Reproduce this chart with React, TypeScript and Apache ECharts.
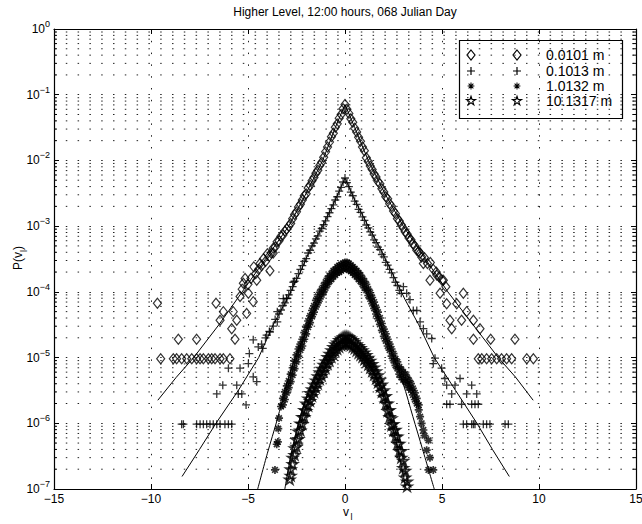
import React, { useEffect, useRef } from 'react';
import * as echarts from 'echarts';

// ---------- texts ----------
const chartTitle = 'Higher Level, 12:00 hours, 068 Julian Day';
const legendLabels = ['0.0101 m', '0.1013 m', '1.0132 m', '10.1317 m'];

// ---------- axes ----------
const xMin = -15;
const xMax = 15;
const xStep = 5;
const yMin = 1e-7;
const yMax = 1;
const decadeExponents = [-7, -6, -5, -4, -3, -2, -1];
const minorMantissas = [2, 3, 4, 5, 6, 7, 8, 9];

// ---------- data: [v_l, P(v_l)] ----------
const diamondPoints: number[][] = [
  [0, 7.1e-2], [-0.1, 6.1e-2], [-0.2, 5.0e-2], [-0.3, 4.4e-2], [-0.4, 3.6e-2], [-0.5, 3.2e-2], [-0.6, 2.6e-2],
  [-0.7, 2.3e-2], [-0.8, 1.9e-2], [-0.9, 1.6e-2], [-1.0, 1.35e-2], [-1.1, 1.12e-2], [-1.2, 9.4e-3], [-1.3, 8.4e-3],
  [-1.4, 7.1e-3], [-1.5, 6.4e-3], [-1.6, 5.5e-3], [-1.7, 4.9e-3], [-1.8, 4.2e-3], [-1.9, 3.8e-3], [-2.0, 3.1e-3],
  [-2.1, 2.9e-3], [-2.2, 2.5e-3], [-2.3, 2.15e-3], [-2.4, 1.95e-3], [-2.5, 1.65e-3], [-2.6, 1.5e-3], [-2.7, 1.3e-3],
  [-2.8, 1.1e-3], [-2.9, 1.0e-3], [-3.0, 9.0e-4], [-3.1, 8.4e-4], [-3.2, 7.3e-4], [-3.3, 7.0e-4], [-3.4, 6.0e-4],
  [-3.5, 5.8e-4], [-3.6, 4.8e-4], [-3.7, 4.6e-4], [-3.8, 3.9e-4], [-3.9, 3.5e-4], [-4.0, 3.8e-4], [-4.1, 2.9e-4],
  [-4.2, 3.2e-4], [-4.3, 2.5e-4], [-4.45, 2.2e-4], [-4.6, 1.9e-4], [-4.7, 2.4e-4], [-4.85, 1.6e-4], [-5.0, 1.3e-4],
  [-5.15, 1.6e-4], [-5.3, 1.1e-4],
  [-9.67, 6.7e-5], [-6.65, 6.7e-5], [-8.59, 1.9e-5], [-7.65, 1.9e-5],
  [-9.5, 9.6e-6], [-8.85, 9.6e-6], [-8.68, 9.6e-6], [-8.42, 9.6e-6], [-8.16, 9.6e-6], [-7.9, 9.6e-6], [-7.65, 9.6e-6],
  [-7.47, 9.6e-6], [-7.3, 9.6e-6], [-7.04, 9.6e-6], [-6.87, 9.6e-6], [-6.7, 9.6e-6], [-6.44, 9.6e-6], [-6.27, 9.6e-6],
  [-5.93, 9.6e-6],
  [-5.67, 1.9e-5], [-6.44, 3.7e-5], [-5.84, 2.75e-5], [-5.58, 3.7e-5], [-6.27, 5.0e-5], [-5.76, 5.0e-5], [-5.07, 4.7e-5],
  [-5.41, 8.5e-5], [-4.98, 9.5e-5], [-4.73, 7.1e-5], [-5.24, 1.35e-4], [-4.55, 1.5e-4], [-4.38, 2.7e-4], [-3.87, 2.1e-4],
  [-3.7, 3.9e-4],
  [0.1, 6.0e-2], [0.2, 5.2e-2], [0.3, 4.3e-2], [0.4, 3.8e-2], [0.5, 3.1e-2], [0.6, 2.7e-2], [0.7, 2.25e-2],
  [0.8, 1.95e-2], [0.9, 1.6e-2], [1.0, 1.4e-2], [1.1, 1.1e-2], [1.2, 9.6e-3], [1.3, 8.2e-3], [1.4, 7.3e-3],
  [1.5, 6.2e-3], [1.6, 5.6e-3], [1.7, 4.8e-3], [1.8, 4.4e-3], [1.9, 3.7e-3], [2.0, 3.3e-3], [2.1, 2.8e-3],
  [2.2, 2.6e-3], [2.3, 2.2e-3], [2.4, 2.0e-3], [2.5, 1.7e-3], [2.6, 1.55e-3], [2.7, 1.3e-3], [2.8, 1.2e-3],
  [2.9, 1.05e-3], [3.0, 9.4e-4], [3.1, 8.2e-4], [3.2, 7.6e-4], [3.3, 6.6e-4], [3.4, 6.2e-4], [3.5, 5.4e-4],
  [3.6, 5.0e-4], [3.7, 4.3e-4], [3.8, 4.1e-4], [3.95, 3.4e-4], [4.1, 3.3e-4], [4.25, 2.7e-4], [4.4, 2.8e-4],
  [4.55, 2.2e-4], [4.7, 2.0e-4], [4.85, 1.7e-4], [5.0, 1.5e-4], [5.2, 1.2e-4],
  [6.87, 9.6e-6], [7.05, 9.6e-6], [7.3, 9.6e-6], [7.56, 9.6e-6], [7.82, 9.6e-6], [8.07, 9.6e-6], [8.33, 9.6e-6],
  [8.59, 9.6e-6], [9.37, 9.6e-6], [9.71, 9.6e-6],
  [6.62, 1.9e-5], [7.51, 1.9e-5], [8.76, 1.9e-5], [5.5, 2.75e-5], [6.96, 2.75e-5], [5.41, 3.7e-5], [6.01, 3.7e-5],
  [6.62, 3.7e-5], [4.9, 9.5e-5], [6.1, 9.5e-5], [5.76, 6.6e-5], [6.27, 5.0e-5], [5.24, 6.6e-5], [4.38, 1.5e-4],
  [4.73, 1.8e-4], [5.07, 1.5e-4], [4.04, 2.7e-4], [3.87, 3.9e-4],
];

const plusPoints: number[][] = [
  [0, 5.4e-3], [-0.1, 4.7e-3], [-0.2, 3.9e-3], [-0.3, 3.4e-3], [-0.4, 2.8e-3], [-0.5, 2.5e-3], [-0.6, 2.1e-3],
  [-0.7, 1.85e-3], [-0.8, 1.6e-3], [-0.9, 1.4e-3], [-1.0, 1.2e-3], [-1.1, 1.05e-3], [-1.2, 9.2e-4], [-1.3, 8.4e-4],
  [-1.4, 7.1e-4], [-1.5, 6.4e-4], [-1.6, 5.5e-4], [-1.7, 5.0e-4], [-1.8, 4.3e-4], [-1.9, 3.9e-4], [-2.0, 3.2e-4],
  [-2.1, 2.9e-4], [-2.2, 2.5e-4], [-2.3, 2.2e-4], [-2.4, 1.9e-4], [-2.5, 1.6e-4], [-2.6, 1.45e-4], [-2.7, 1.2e-4],
  [-2.8, 1.05e-4], [-2.9, 9.0e-5], [-3.0, 8.0e-5], [-3.1, 6.8e-5], [-3.2, 6.2e-5], [-3.3, 5.3e-5], [-3.4, 4.6e-5],
  [-3.6, 3.8e-5], [-3.7, 3.0e-5], [-3.9, 2.5e-5], [-4.1, 2.0e-5], [-4.3, 1.6e-5],
  [-8.42, 9.7e-7], [-8.33, 9.7e-7], [-7.65, 9.7e-7], [-7.47, 9.7e-7], [-7.3, 9.7e-7], [-7.13, 9.7e-7], [-6.96, 9.7e-7],
  [-6.79, 9.7e-7], [-6.61, 9.7e-7], [-6.44, 9.7e-7], [-6.19, 9.7e-7], [-6.01, 9.7e-7], [-5.84, 9.7e-7],
  [-5.1, 1.9e-6], [-6.61, 2.8e-6], [-6.3, 3.8e-6], [-5.58, 3.8e-6], [-6.01, 6.9e-6], [-5.41, 6.9e-6], [-5.5, 2.8e-6],
  [-5.32, 2.8e-6], [-4.98, 8.1e-6], [-4.93, 1.15e-5], [-4.73, 5.1e-6], [-4.55, 4.3e-6], [-4.73, 1.86e-5],
  [-4.47, 1.45e-5], [-4.24, 1.38e-5], [-4.04, 2.2e-5], [-3.87, 2.45e-5], [-3.49, 3.5e-5], [-3.49, 5.0e-5],
  [-3.18, 7.9e-5], [-3.01, 7.9e-5], [-2.66, 1.4e-4],
  [0.1, 4.6e-3], [0.2, 4.0e-3], [0.3, 3.3e-3], [0.4, 2.9e-3], [0.5, 2.4e-3], [0.6, 2.15e-3], [0.7, 1.8e-3],
  [0.8, 1.62e-3], [0.9, 1.38e-3], [1.0, 1.22e-3], [1.1, 1.04e-3], [1.2, 9.4e-4], [1.3, 8.2e-4], [1.4, 7.3e-4],
  [1.5, 6.2e-4], [1.6, 5.6e-4], [1.7, 4.8e-4], [1.8, 4.4e-4], [1.9, 3.7e-4], [2.0, 3.4e-4], [2.1, 2.8e-4],
  [2.2, 2.55e-4], [2.3, 2.2e-4], [2.4, 1.95e-4], [2.5, 1.65e-4], [2.6, 1.4e-4], [2.7, 1.25e-4], [2.8, 1.05e-4],
  [2.9, 9.5e-5], [3.35, 7.6e-5], [3.18, 9.5e-5], [3.01, 1.2e-4], [3.52, 5.2e-5], [3.7, 5.2e-5], [3.87, 3.5e-5],
  [4.04, 2.75e-5], [4.21, 2.3e-5], [4.47, 1.95e-5], [4.55, 8.1e-6], [4.64, 9.8e-6], [4.98, 6.9e-6],
  [5.15, 4.8e-6], [5.93, 4.8e-6], [5.24, 3.8e-6], [5.67, 3.8e-6], [6.53, 3.8e-6], [5.5, 2.8e-6], [6.27, 2.8e-6],
  [6.79, 2.8e-6], [5.24, 1.95e-6], [5.41, 1.95e-6], [6.01, 1.95e-6], [6.53, 1.95e-6], [6.7, 1.95e-6], [6.87, 1.95e-6],
  [6.1, 9.7e-7], [6.27, 9.7e-7], [6.53, 9.7e-7], [6.62, 9.7e-7], [6.7, 9.7e-7], [7.13, 9.7e-7], [7.3, 9.7e-7],
  [7.47, 9.7e-7], [8.25, 9.7e-7], [8.42, 9.7e-7],
];

const asteriskPoints: number[][] = [
  [0, 2.8e-4], [0, 2.3e-4], [-0.1, 2.7e-4], [-0.1, 2.2e-4], [-0.2, 2.6e-4], [-0.2, 2.1e-4], [-0.3, 2.5e-4], [-0.3, 2.0e-4],
  [-0.4, 2.4e-4], [-0.4, 1.95e-4], [-0.5, 2.2e-4], [-0.5, 1.8e-4], [-0.6, 2.1e-4], [-0.6, 1.7e-4], [-0.7, 1.9e-4],
  [-0.7, 1.55e-4], [-0.8, 1.75e-4], [-0.8, 1.45e-4], [-0.9, 1.6e-4], [-0.9, 1.3e-4], [-1.0, 1.4e-4], [-1.0, 1.15e-4],
  [-1.1, 1.25e-4], [-1.1, 1.0e-4], [-1.2, 1.1e-4], [-1.2, 9.0e-5], [-1.3, 9.8e-5], [-1.3, 7.8e-5], [-1.4, 8.5e-5],
  [-1.4, 6.8e-5], [-1.5, 7.4e-5], [-1.5, 5.9e-5], [-1.6, 6.1e-5], [-1.6, 4.9e-5], [-1.7, 5.2e-5], [-1.7, 4.2e-5],
  [-1.8, 4.3e-5], [-1.8, 3.4e-5], [-1.9, 3.6e-5], [-1.9, 2.9e-5], [-2.0, 2.9e-5], [-2.0, 2.3e-5], [-2.1, 2.4e-5],
  [-2.1, 1.9e-5], [-2.2, 1.9e-5], [-2.2, 1.5e-5], [-2.3, 1.6e-5], [-2.3, 1.3e-5], [-2.4, 1.35e-5], [-2.4, 1.05e-5],
  [-2.5, 1.1e-5], [-2.5, 8.6e-6], [-2.6, 8.8e-6], [-2.6, 6.8e-6], [-2.7, 7.0e-6], [-2.7, 5.4e-6], [-2.8, 5.6e-6],
  [-2.8, 4.3e-6], [-2.9, 4.4e-6], [-2.9, 3.5e-6], [-3.0, 3.7e-6], [-3.0, 2.9e-6], [-3.1, 3.0e-6], [-3.1, 2.3e-6],
  [-3.2, 2.4e-6], [-3.2, 1.9e-6], [-3.3, 1.8e-6],
  [-3.4, 1.2e-6], [-3.44, 8.3e-7], [-3.46, 5.2e-7], [-3.52, 4.8e-7], [-3.61, 1.95e-7],
  [0.1, 2.8e-4], [0.1, 2.25e-4], [0.2, 2.7e-4], [0.2, 2.15e-4], [0.3, 2.55e-4], [0.3, 2.05e-4], [0.4, 2.4e-4],
  [0.4, 1.95e-4], [0.5, 2.25e-4], [0.5, 1.8e-4], [0.6, 2.1e-4], [0.6, 1.7e-4], [0.7, 1.95e-4], [0.7, 1.55e-4],
  [0.8, 1.8e-4], [0.8, 1.45e-4], [0.9, 1.6e-4], [0.9, 1.3e-4], [1.0, 1.45e-4], [1.0, 1.15e-4], [1.1, 1.3e-4],
  [1.1, 1.05e-4], [1.2, 1.1e-4], [1.2, 8.8e-5], [1.3, 9.7e-5], [1.3, 7.8e-5], [1.4, 8.2e-5], [1.4, 6.6e-5],
  [1.5, 7.0e-5], [1.5, 5.6e-5], [1.6, 5.8e-5], [1.6, 4.6e-5], [1.7, 4.9e-5], [1.7, 3.9e-5], [1.8, 4.0e-5],
  [1.8, 3.2e-5], [1.9, 3.3e-5], [1.9, 2.6e-5], [2.0, 2.7e-5], [2.0, 2.1e-5], [2.1, 2.3e-5], [2.1, 1.8e-5],
  [2.2, 1.9e-5], [2.2, 1.5e-5], [2.3, 1.6e-5], [2.3, 1.3e-5], [2.4, 1.35e-5], [2.4, 1.05e-5], [2.5, 1.15e-5],
  [2.5, 9.0e-6], [2.6, 9.6e-6], [2.6, 7.6e-6], [2.7, 8.6e-6], [2.7, 6.8e-6], [2.8, 7.2e-6], [2.8, 5.6e-6],
  [2.9, 6.6e-6], [2.9, 5.0e-6], [3.0, 6.0e-6], [3.0, 4.6e-6], [3.1, 5.6e-6], [3.1, 4.3e-6], [3.2, 5.0e-6],
  [3.2, 3.9e-6], [3.3, 4.5e-6], [3.3, 3.5e-6], [3.4, 4.0e-6], [3.4, 3.2e-6], [3.5, 3.4e-6], [3.5, 2.7e-6],
  [3.6, 2.9e-6], [3.6, 2.3e-6], [3.7, 2.4e-6], [3.7, 2.0e-6], [3.8, 1.9e-6], [3.8, 1.6e-6],
  [3.87, 1.26e-6], [3.95, 1.0e-6], [4.04, 7.9e-7], [4.1, 6.5e-7], [4.3, 5.5e-7], [4.21, 3.9e-7], [4.38, 3.0e-7],
  [4.3, 1.95e-7], [4.55, 1.95e-7],
];

const starPoints: number[][] = [
  [0, 2.1e-5], [0, 1.65e-5], [-0.1, 2.05e-5], [-0.1, 1.6e-5], [-0.2, 1.95e-5], [-0.2, 1.55e-5], [-0.3, 1.85e-5],
  [-0.3, 1.45e-5], [-0.4, 1.7e-5], [-0.4, 1.35e-5], [-0.5, 1.6e-5], [-0.5, 1.25e-5], [-0.6, 1.45e-5], [-0.6, 1.12e-5],
  [-0.7, 1.3e-5], [-0.7, 1.02e-5], [-0.8, 1.15e-5], [-0.8, 9.0e-6], [-0.9, 1.02e-5], [-0.9, 8.0e-6], [-1.0, 8.8e-6],
  [-1.0, 6.9e-6], [-1.1, 7.8e-6], [-1.1, 6.1e-6], [-1.2, 6.8e-6], [-1.2, 5.3e-6], [-1.3, 6.0e-6], [-1.3, 4.7e-6],
  [-1.4, 5.2e-6], [-1.4, 4.0e-6], [-1.5, 4.5e-6], [-1.5, 3.5e-6], [-1.6, 3.9e-6], [-1.6, 3.0e-6], [-1.7, 3.3e-6],
  [-1.7, 2.6e-6], [-1.8, 2.9e-6], [-1.8, 2.2e-6], [-1.9, 2.4e-6], [-1.9, 1.85e-6], [-2.0, 2.0e-6], [-2.0, 1.55e-6],
  [-2.1, 1.6e-6], [-2.1, 1.25e-6], [-2.2, 1.25e-6], [-2.2, 9.8e-7], [-2.3, 1.0e-6], [-2.3, 7.8e-7], [-2.4, 7.5e-7],
  [-2.4, 5.8e-7], [-2.5, 5.6e-7], [-2.5, 4.4e-7], [-2.6, 4.2e-7], [-2.6, 3.3e-7], [-2.7, 3.0e-7], [-2.7, 2.4e-7],
  [-2.8, 2.0e-7], [-2.8, 1.6e-7], [-2.85, 1.4e-7],
  [0.1, 2.1e-5], [0.1, 1.65e-5], [0.2, 2.05e-5], [0.2, 1.6e-5], [0.3, 1.95e-5], [0.3, 1.55e-5], [0.4, 1.85e-5],
  [0.4, 1.45e-5], [0.5, 1.75e-5], [0.5, 1.38e-5], [0.6, 1.6e-5], [0.6, 1.28e-5], [0.7, 1.5e-5], [0.7, 1.18e-5],
  [0.8, 1.4e-5], [0.8, 1.1e-5], [0.9, 1.3e-5], [0.9, 1.02e-5], [1.0, 1.2e-5], [1.0, 9.4e-6], [1.1, 1.1e-5],
  [1.1, 8.6e-6], [1.2, 1.0e-5], [1.2, 7.8e-6], [1.3, 9.0e-6], [1.3, 7.0e-6], [1.4, 8.0e-6], [1.4, 6.2e-6],
  [1.5, 7.1e-6], [1.5, 5.5e-6], [1.6, 6.2e-6], [1.6, 4.8e-6], [1.7, 5.4e-6], [1.7, 4.2e-6], [1.8, 4.6e-6],
  [1.8, 3.6e-6], [1.9, 3.9e-6], [1.9, 3.0e-6], [2.0, 3.2e-6], [2.0, 2.5e-6], [2.1, 2.6e-6], [2.1, 2.0e-6],
  [2.2, 2.0e-6], [2.2, 1.55e-6], [2.3, 1.6e-6], [2.3, 1.25e-6], [2.4, 1.2e-6], [2.4, 9.4e-7], [2.5, 9.8e-7],
  [2.5, 7.8e-7], [2.6, 8.0e-7], [2.6, 6.3e-7], [2.7, 6.3e-7], [2.7, 4.9e-7], [2.8, 4.9e-7], [2.8, 3.8e-7],
  [2.9, 3.8e-7], [2.9, 3.0e-7], [3.0, 2.7e-7], [3.0, 2.1e-7], [3.1, 1.9e-7], [3.1, 1.5e-7], [3.2, 1.3e-7],
  [3.2, 1.1e-7],
];

// fitted curves
const diamondFit: number[][] = [
  [-9.65, 2.24e-6], [-8.7, 5.0e-6], [-7.8, 1.0e-5], [-6.5, 3.16e-5], [-5.3, 1.0e-4], [-4.1, 3.16e-4], [-2.9, 1.0e-3],
  [-2.0, 3.16e-3], [-1.15, 1.0e-2], [-0.5, 3.16e-2], [0, 7.1e-2], [0.5, 3.16e-2], [1.2, 1.0e-2], [2.05, 3.16e-3],
  [3.0, 1.0e-3], [4.15, 3.16e-4], [5.3, 1.0e-4], [6.6, 3.16e-5], [7.9, 1.0e-5], [8.8, 5.0e-6], [9.7, 2.24e-6],
];
const plusFit: number[][] = [
  [-8.4, 1.55e-7], [-7.5, 4.0e-7], [-6.65, 1.0e-6], [-5.5, 3.16e-6], [-4.45, 1.0e-5], [-3.7, 3.16e-5], [-3.0, 7.6e-5],
  [-2.3, 2.0e-4], [-1.8, 4.4e-4], [-1.15, 1.0e-3], [-0.5, 2.5e-3], [0, 5.4e-3], [0.5, 2.5e-3], [1.2, 1.0e-3],
  [1.85, 4.4e-4], [3.1, 7.6e-5], [3.8, 3.16e-5], [4.6, 1.0e-5], [5.7, 3.16e-6], [6.8, 1.0e-6], [7.6, 4.0e-7],
  [8.47, 1.55e-7],
];
const asteriskFit: number[][] = [
  [-4.5, 1e-7], [-4.0, 3.5e-7], [-3.5, 1.12e-6], [-3.0, 4.0e-6], [-2.5, 1.12e-5], [-2.0, 2.5e-5], [-1.5, 5.6e-5],
  [-1.0, 1.12e-4], [-0.5, 2.0e-4], [0, 2.5e-4], [0.5, 2.0e-4], [1.0, 1.12e-4], [1.5, 5.6e-5], [2.0, 2.4e-5],
  [2.5, 1.0e-5], [3.0, 4.0e-6], [3.5, 1.26e-6], [4.0, 4.0e-7], [4.6, 1e-7],
];
const starFit: number[][] = [
  [-3.1, 1e-7], [-2.8, 3.16e-7], [-2.4, 1.0e-6], [-2.0, 2.5e-6], [-1.5, 5.6e-6], [-1.0, 1.07e-5], [-0.5, 1.58e-5],
  [0, 1.86e-5], [0.5, 1.58e-5], [1.0, 1.07e-5], [1.5, 5.6e-6], [2.0, 2.5e-6], [2.4, 1.0e-6], [2.8, 3.16e-7],
  [3.15, 1e-7],
];

// ---------- marker shapes ----------
const DIAMOND_PATH = 'M0,-5L4,0L0,5L-4,0Z';
const PLUS_PATH = 'M0,-4L0,4M-4,0L4,0';
const AST_PATH = 'M0,-4L0,4M-4,0L4,0M-2.8,-2.8L2.8,2.8M-2.8,2.8L2.8,-2.8';
const STAR_PATH =
  'M0,-5L1.123,-1.545L4.755,-1.545L1.817,0.59L2.939,4.045L0,1.91L-2.939,4.045L-1.817,0.59L-4.755,-1.545L-1.123,-1.545Z';

let shapesRegistered = false;
function registerShapes() {
  if (shapesRegistered) return;
  shapesRegistered = true;
  echarts.graphic.registerShape('lgDiamond', echarts.graphic.extendPath(DIAMOND_PATH, {}) as any);
  echarts.graphic.registerShape('lgPlus', echarts.graphic.extendPath(PLUS_PATH, {}) as any);
  echarts.graphic.registerShape('lgAst', echarts.graphic.extendPath(AST_PATH, {}) as any);
  echarts.graphic.registerShape('lgStar', echarts.graphic.extendPath(STAR_PATH, {}) as any);
}

const FONT = '"Liberation Sans", Arial, Helvetica, sans-serif';
const DOT = [1.5, 10.3];
const GRID_COLOR = '#222';

export default function App() {
  const ref = useRef<HTMLDivElement>(null);

  useEffect(() => {
    if (!ref.current) return;
    registerShapes();
    const chart = echarts.init(ref.current, null, { renderer: 'svg' });

    const minorValues: number[][] = [];
    decadeExponents.forEach((e) => {
      minorMantissas.forEach((m) => minorValues.push([0, m * Math.pow(10, e)]));
    });

    const scatter = (name: string, data: number[][], path: string, size: number | number[], bw: number) => ({
      name,
      type: 'scatter',
      data,
      symbol: 'path://' + path,
      symbolSize: size,
      itemStyle: { color: 'transparent', borderColor: '#000', borderWidth: bw },
      silent: true,
      z: 3,
    });
    const fit = (data: number[][], smooth: number | boolean) => ({
      type: 'line',
      data,
      symbol: 'none',
      smooth,
      lineStyle: { color: '#000', width: 1 },
      silent: true,
      z: 4,
    });

    const legendRows = [
      { shape: 'lgDiamond', label: legendLabels[0] },
      { shape: 'lgPlus', label: legendLabels[1] },
      { shape: 'lgAst', label: legendLabels[2] },
      { shape: 'lgStar', label: legendLabels[3] },
    ];
    const rowY = [55, 71, 86, 101];
    const legendChildren: any[] = [
      {
        type: 'rect',
        shape: { x: 459.5, y: 40.5, width: 163, height: 78 },
        style: { fill: '#fff', stroke: '#000', lineWidth: 1.2 },
      },
    ];
    legendRows.forEach((r, i) => {
      const sc = r.shape === 'lgAst' ? 0.85 : r.shape === 'lgStar' ? 0.95 : 1;
      [471, 517].forEach((mx) => {
        legendChildren.push({
          type: r.shape,
          x: mx,
          y: rowY[i],
          scaleX: sc,
          scaleY: sc,
          style: { fill: 'none', stroke: '#000', lineWidth: 1.2 },
        });
      });
      legendChildren.push({
        type: 'text',
        x: 546,
        y: rowY[i],
        style: { text: r.label, fill: '#000', font: `14px ${FONT}`, textVerticalAlign: 'middle', verticalAlign: 'middle' },
      });
    });

    const subRich = {
      a: { fontSize: 12, fontFamily: FONT, color: '#000', lineHeight: 12, verticalAlign: 'middle' },
      s: { fontSize: 9, fontFamily: FONT, color: '#000', lineHeight: 9, padding: [11, 0, 0, 0] },
    };

    chart.setOption({
      animation: false,
      backgroundColor: '#fff',
      textStyle: { fontFamily: FONT, color: '#000' },
      grid: { left: 54, top: 29, width: 582, height: 460, containLabel: false, outerBoundsMode: 'none' },
      xAxis: [
        {
          type: 'value',
          min: xMin,
          max: xMax,
          interval: xStep,
          position: 'bottom',
          axisLine: { show: true, onZero: false, lineStyle: { color: '#000', width: 1.2 } },
          axisTick: { show: true, inside: true, length: 5, lineStyle: { color: '#000' } },
          axisLabel: {
            show: true,
            margin: 4,
            fontSize: 12,
            color: '#000',
            fontFamily: FONT,
            showMinLabel: true,
            showMaxLabel: true,
            hideOverlap: false,
            formatter: (v: number) => (v < 0 ? '\u2212' + Math.abs(v) : String(v)),
          },
          splitLine: { show: true, lineStyle: { color: GRID_COLOR, width: 1, type: DOT } },
        },
        {
          type: 'value',
          min: xMin,
          max: xMax,
          interval: xStep,
          position: 'top',
          axisLine: { show: true, onZero: false, lineStyle: { color: '#000', width: 1.2 } },
          axisTick: { show: true, inside: true, length: 5, lineStyle: { color: '#000' } },
          axisLabel: { show: false },
          splitLine: { show: false },
        },
      ],
      yAxis: [
        {
          type: 'log',
          logBase: 10,
          min: yMin,
          max: yMax,
          splitNumber: 7,
          position: 'left',
          axisLine: { show: true, onZero: false, lineStyle: { color: '#000', width: 1.2 } },
          axisTick: { show: true, inside: true, length: 5, lineStyle: { color: '#000' } },
          axisLabel: {
            show: true,
            margin: 4,
            showMinLabel: true,
            showMaxLabel: true,
            hideOverlap: false,
            formatter: (v: number) => {
              const e = Math.round(Math.log10(v));
              return `{b|10}{e|${e < 0 ? '\u2212' : ''}${Math.abs(e)}}`;
            },
            rich: {
              b: { fontSize: 12, fontFamily: FONT, color: '#000', lineHeight: 12, verticalAlign: 'middle' },
              e: { fontSize: 9, fontFamily: FONT, color: '#000', lineHeight: 9, padding: [0, 0, 10, 0] },
            },
          },
          splitLine: { show: true, lineStyle: { color: GRID_COLOR, width: 1, type: DOT } },
        },
        {
          type: 'log',
          logBase: 10,
          min: yMin,
          max: yMax,
          splitNumber: 7,
          position: 'right',
          axisLine: { show: true, onZero: false, lineStyle: { color: '#000', width: 1.2 } },
          axisTick: { show: true, inside: true, length: 5, lineStyle: { color: '#000' } },
          axisLabel: { show: false },
          splitLine: { show: false },
        },
      ],
      series: [
        {
          type: 'custom',
          xAxisIndex: 0,
          yAxisIndex: 0,
          silent: true,
          z: 1,
          data: minorValues,
          renderItem: (_p: any, api: any) => {
            const v = api.value(1);
            const a = api.coord([xMin, v]);
            const b = api.coord([xMax, v]);
            return {
              type: 'group',
              children: [
                {
                  type: 'line',
                  shape: { x1: a[0], y1: a[1], x2: b[0], y2: b[1] },
                  style: { stroke: GRID_COLOR, lineWidth: 1, lineDash: DOT },
                },
                { type: 'line', shape: { x1: a[0], y1: a[1], x2: a[0] + 3, y2: a[1] }, style: { stroke: '#000', lineWidth: 1 } },
                { type: 'line', shape: { x1: b[0] - 3, y1: b[1], x2: b[0], y2: b[1] }, style: { stroke: '#000', lineWidth: 1 } },
              ],
            };
          },
        },
        scatter(legendLabels[0], diamondPoints, DIAMOND_PATH, [8, 10], 1.2),
        scatter(legendLabels[1], plusPoints, PLUS_PATH, 8, 1.3),
        scatter(legendLabels[2], asteriskPoints, AST_PATH, 8, 1.7),
        scatter(legendLabels[3], starPoints, STAR_PATH, [10, 9.5], 1.6),
        fit(diamondFit, false),
        fit(plusFit, false),
        fit(asteriskFit, 0.3),
        fit(starFit, 0.3),
      ],
      graphic: [
        {
          type: 'text',
          x: 345,
          y: 12,
          style: { text: chartTitle, fill: '#000', font: `12px ${FONT}`, textAlign: 'center', textVerticalAlign: 'middle', align: 'center', verticalAlign: 'middle' },
          z: 10,
        },
        {
          type: 'text',
          x: 346,
          y: 512,
          style: { text: 'v', fill: '#000', font: `12px ${FONT}`, align: 'center', verticalAlign: 'middle' },
          z: 10,
        },
        {
          type: 'text',
          x: 350.5,
          y: 517,
          style: { text: 'l', fill: '#000', font: `9px ${FONT}`, align: 'left', verticalAlign: 'middle' },
          z: 10,
        },
        {
          type: 'text',
          x: 18,
          y: 258,
          rotation: Math.PI / 2,
          style: { text: '{a|P(v}{s|l}{a|)}', rich: subRich, textAlign: 'center', textVerticalAlign: 'middle', align: 'center', verticalAlign: 'middle' },
          z: 10,
        },
        { type: 'group', z: 20, children: legendChildren },
      ],
    });

    return () => chart.dispose();
  }, []);

  return (
    <div
      ref={ref}
      style={{ position: 'fixed', left: 0, top: 0, width: 642, height: 524, background: '#fff' }}
    />
  );
}
